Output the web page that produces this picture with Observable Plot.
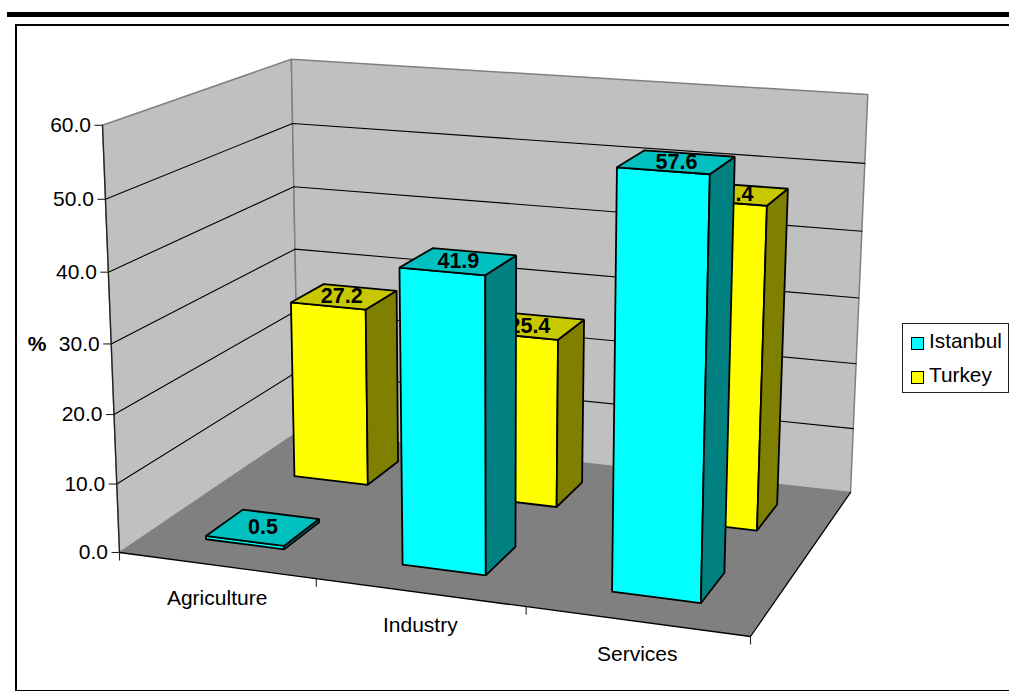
<!DOCTYPE html>
<html>
<head>
<meta charset="utf-8">
<script src="https://cdn.jsdelivr.net/npm/d3@7"></script>
<script src="https://cdn.jsdelivr.net/npm/@observablehq/plot@0.6"></script>
<style>
  html, body { margin: 0; padding: 0; background: #fff; overflow: hidden; }
  body { width: 1009px; height: 691px; position: relative; font-family: "Liberation Sans", Arial, sans-serif; }
  #chart svg { display: block; position: absolute; left: 0; top: 0; }
  #rule { position: absolute; left: 7px; right: 0; top: 12px; height: 5px; background: #000; }
  #frame { position: absolute; left: 15px; width: 994px; top: 24px; height: 664px;
           border-left: 2px solid #000; border-top: 2px solid #000; border-bottom: 2px solid #000; border-right: 0; box-sizing: content-box; }
  #legend { position: absolute; left: 902px; top: 323px; width: 105px; height: 68px; border: 1px solid #222; background: #fff; color: #000; z-index: 2; }
  #legend .row { position: absolute; left: 0; font-size: 20.8px; line-height: 24px; white-space: nowrap; }
  #legend .swatch { position: absolute; left: 8px; top: 6px; width: 11px; height: 11px; border: 1px solid #000; }
  #legend .name { position: absolute; left: 26px; top: -2px; }
</style>
</head>
<body>
<div id="rule"></div>
<div id="frame"></div>
<div id="chart"></div>
<div id="legend"></div>
<script>
// ---- data ----
const categories = ["Agriculture", "Industry", "Services"];
const seriesNames = ["Istanbul", "Turkey"];
const istanbul = [0.5, 41.9, 57.6];
const turkey = [27.2, 25.4, 47.4];
const valueTicks = [0, 10, 20, 30, 40, 50, 60];
const valueMax = 60;

// ---- colours (front, side, top) ----
const shades = {
  Istanbul: ["#00ffff", "#008080", "#00c0c0"],
  Turkey: ["#ffff00", "#808000", "#c8c800"]
};

// ---- camera: perspective projection of the chart box (u along categories, v depth, w value) ----
function project(u, v, w) {
  const den = -0.09368 * u + 0.1559 * v + 1 - 0.0462 * w;
  return [
    (560.74 * u + 223.15 * v + 119 - 21.7 * w + 2.3 * (1 - u) * v - 3 * u * (1 - v) * w) / den,
    (24.42 * u - 53.81 * v + 552 - 433 * w + 6 * u * w) / den
  ];
}
const px = (d) => project(d[0], d[1], d[2])[0];
const py = (d) => project(d[0], d[1], d[2])[1];
const wOf = (value) => value / valueMax;

// A filled polygon in chart space.
const face = (pts, fill, stroke = "#000", strokeWidth = 1.8) =>
  Plot.line(pts, {x: px, y: py, fill, stroke, strokeWidth, curve: "linear-closed", strokeLinejoin: "miter"});
const path = (pts, stroke, strokeWidth = 1.2) =>
  Plot.line(pts, {x: px, y: py, stroke, strokeWidth, curve: "linear"});

const halfW = 0.0675, halfD = 0.1;

function barMarks(name, values) {
  const isFront = seriesNames.indexOf(name) === 0;
  const v0 = isFront ? 0.25 : 0.75;
  const [front, side, top] = shades[name];
  const marks = [];
  values.forEach((value, i) => {
    const uc = (i + 0.5) / categories.length;
    const u1 = uc - halfW, u2 = uc + halfW, v1 = v0 - halfD, v2 = v0 + halfD, w = wOf(value);
    marks.push(
      face([[u1, v1, 0], [u2, v1, 0], [u2, v1, w], [u1, v1, w]], front),
      face([[u2, v1, 0], [u2, v2, 0], [u2, v2, w], [u2, v1, w]], side),
      face([[u1, v1, w], [u2, v1, w], [u2, v2, w], [u1, v2, w]], top)
    );
  });
  marks.push(Plot.text(values, {
    x: (d, i) => project((i + 0.5) / categories.length, v0, wOf(d))[0],
    y: (d, i) => project((i + 0.5) / categories.length, v0, wOf(d))[1],
    dx: isFront ? 0 : -2.5,
    text: (d) => d.toFixed(1),
    fontSize: 21.5, fontWeight: "bold", fill: "#000", textAnchor: "middle", lineAnchor: "middle",
    fontFamily: "Liberation Sans"
  }));
  return marks;
}

const tickFont = {fontSize: 21, fill: "#000", fontFamily: "Liberation Sans", lineAnchor: "middle"};

const chart = Plot.plot({
  width: 1009,
  height: 691,
  margin: 0,
  style: {background: "transparent", fontFamily: "Liberation Sans"},
  x: {type: "identity", axis: null},
  y: {type: "identity", axis: null},
  marks: [
    // walls and floor
    face([[0, 0, 0], [0, 1, 0], [0, 1, 1], [0, 0, 1]], "#c0c0c0", "#808080", 1.5),
    face([[0, 1, 0], [1, 1, 0], [1, 1, 1], [0, 1, 1]], "#c0c0c0", "#808080", 1.5),
    // gridlines on both walls
    ...valueTicks.filter((t) => t > 0 && t < valueMax).map((t) =>
      path([[0, 0, wOf(t)], [0, 1, wOf(t)], [1, 1, wOf(t)]], "#000", 1.1)),
    face([[0, 0, 0], [1, 0, 0], [1, 1, 0], [0, 1, 0]], "#808080", "none", 0),
    path([[0, 0, 0], [1, 0, 0], [1, 1, 0]], "#000", 1.3),
    path([[0, 0, 0], [0, 0, 1]], "#222", 1.3),
    // value axis ticks and labels
    Plot.link(valueTicks, {
      x1: (t) => project(0, 0, wOf(t))[0] - 8, x2: (t) => project(0, 0, wOf(t))[0],
      y1: (t) => project(0, 0, wOf(t))[1], y2: (t) => project(0, 0, wOf(t))[1],
      stroke: "#222", strokeWidth: 1.1
    }),
    Plot.text(valueTicks, {
      x: (t) => project(0, 0, wOf(t))[0], y: (t) => project(0, 0, wOf(t))[1], dx: -11.5,
      text: (t) => t.toFixed(1), textAnchor: "end", ...tickFont
    }),
    Plot.text(["%"], {
      x: () => project(0, 0, 0.5)[0], y: () => project(0, 0, 0.5)[1], dx: -74, dy: 0,
      text: (d) => d, fontWeight: "bold", textAnchor: "middle", ...tickFont
    }),
    // category axis ticks and labels
    Plot.link(d3.range(categories.length + 1), {
      x1: (i) => project(i / categories.length, 0, 0)[0], x2: (i) => project(i / categories.length, 0, 0)[0],
      y1: (i) => project(i / categories.length, 0, 0)[1], y2: (i) => project(i / categories.length, 0, 0)[1] + 8,
      stroke: "#222", strokeWidth: 1.1
    }),
    Plot.text(categories, {
      x: (d, i) => project((i + 0.5) / categories.length, 0, 0)[0],
      y: (d, i) => project((i + 0.5) / categories.length, 0, 0)[1],
      dx: 0.8, dy: 33, text: (d) => d, textAnchor: "middle", ...tickFont
    }),
    // bars, back row first
    ...barMarks("Turkey", turkey),
    ...barMarks("Istanbul", istanbul)
  ]
});
document.getElementById("chart").append(chart);

// ---- legend ----
const legend = document.getElementById("legend");
seriesNames.forEach((name, i) => {
  const row = document.createElement("div");
  row.className = "row";
  row.style.top = (7 + i * 34) + "px";
  const sw = document.createElement("div");
  sw.className = "swatch";
  sw.style.background = shades[name][0];
  const label = document.createElement("div");
  label.className = "name";
  label.textContent = name;
  row.append(sw, label);
  legend.append(row);
});
</script>
</body>
</html>
